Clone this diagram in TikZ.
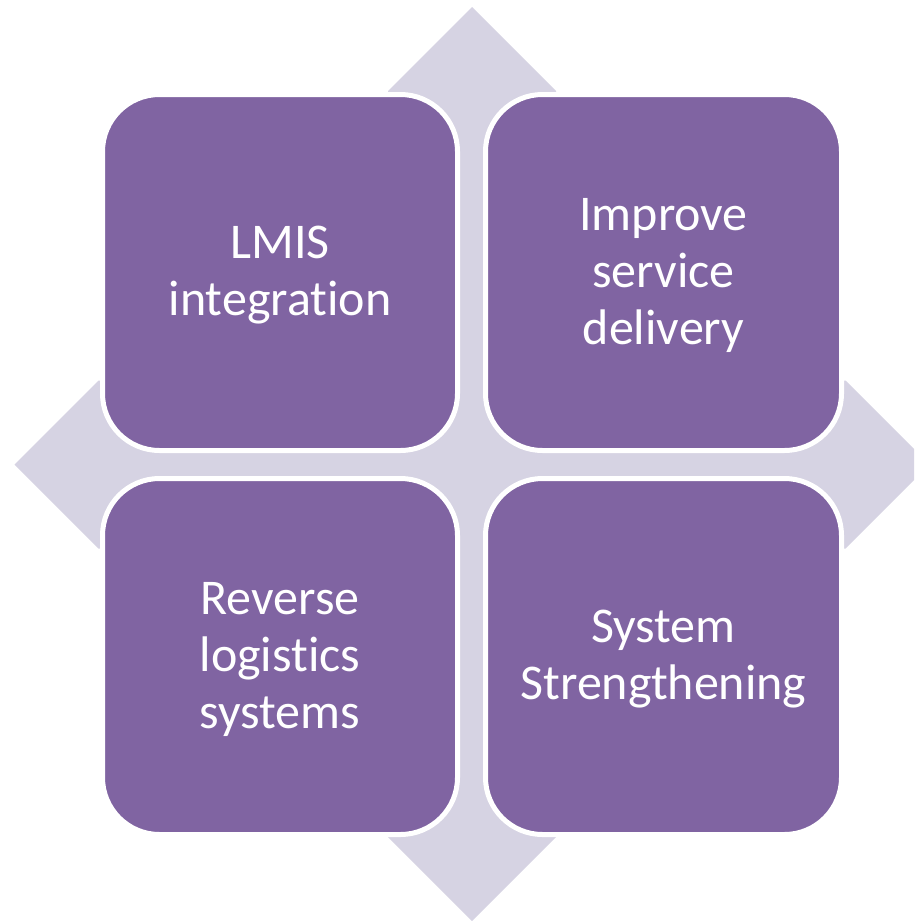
\documentclass[tikz,border=0pt]{standalone}
\usepackage{fontspec}
\setmainfont[Ligatures={NoCommon}]{Carlito}
\definecolor{boxpurple}{HTML}{8064A2}
\definecolor{lav}{HTML}{D6D3E3}
\begin{document}
\begin{tikzpicture}[x=1pt,y=-1pt,
  quadbox/.style={fill=boxpurple,draw=white,line width=5pt,rounded corners=57pt},
  boxtext/.style={text=white,align=center,font=\fontsize{50}{57}\selectfont,inner sep=0pt}]
\useasboundingbox (0,0) rectangle (914,921);
\clip (0,0) rectangle (914,921);
% background quad arrow
\fill[lav] (388,91) -- (472,7) -- (556,91) -- (556,380.5) -- (845.5,380.5) -- (929.5,464.5)
  -- (845.5,548.5) -- (556,548.5) -- (556,837) -- (472,921) -- (388,837) -- (388,548.5)
  -- (98.5,548.5) -- (14.5,464.5) -- (98.5,380.5) -- (388,380.5) -- cycle;
% boxes
\draw[quadbox] (102.5,94.5) rectangle (457.5,450.5);
\draw[quadbox] (485.5,94.5) rectangle (841.5,450.5);
\draw[quadbox] (102.5,478.5) rectangle (457.5,834.5);
\draw[quadbox] (485.5,478.5) rectangle (841.5,834.5);
% texts
\node[boxtext] (tl) at (280,275.5) {LMIS\\integration};
\node[boxtext] (tr) at (663.5,275.5) {Improve\\service\\delivery};
\node[boxtext] (bl) at (280,659.5) {Reverse\\logistics\\systems};
\node[boxtext] (br) at (663.5,659.5) {System\\Strengthening};
\end{tikzpicture}
\end{document}
